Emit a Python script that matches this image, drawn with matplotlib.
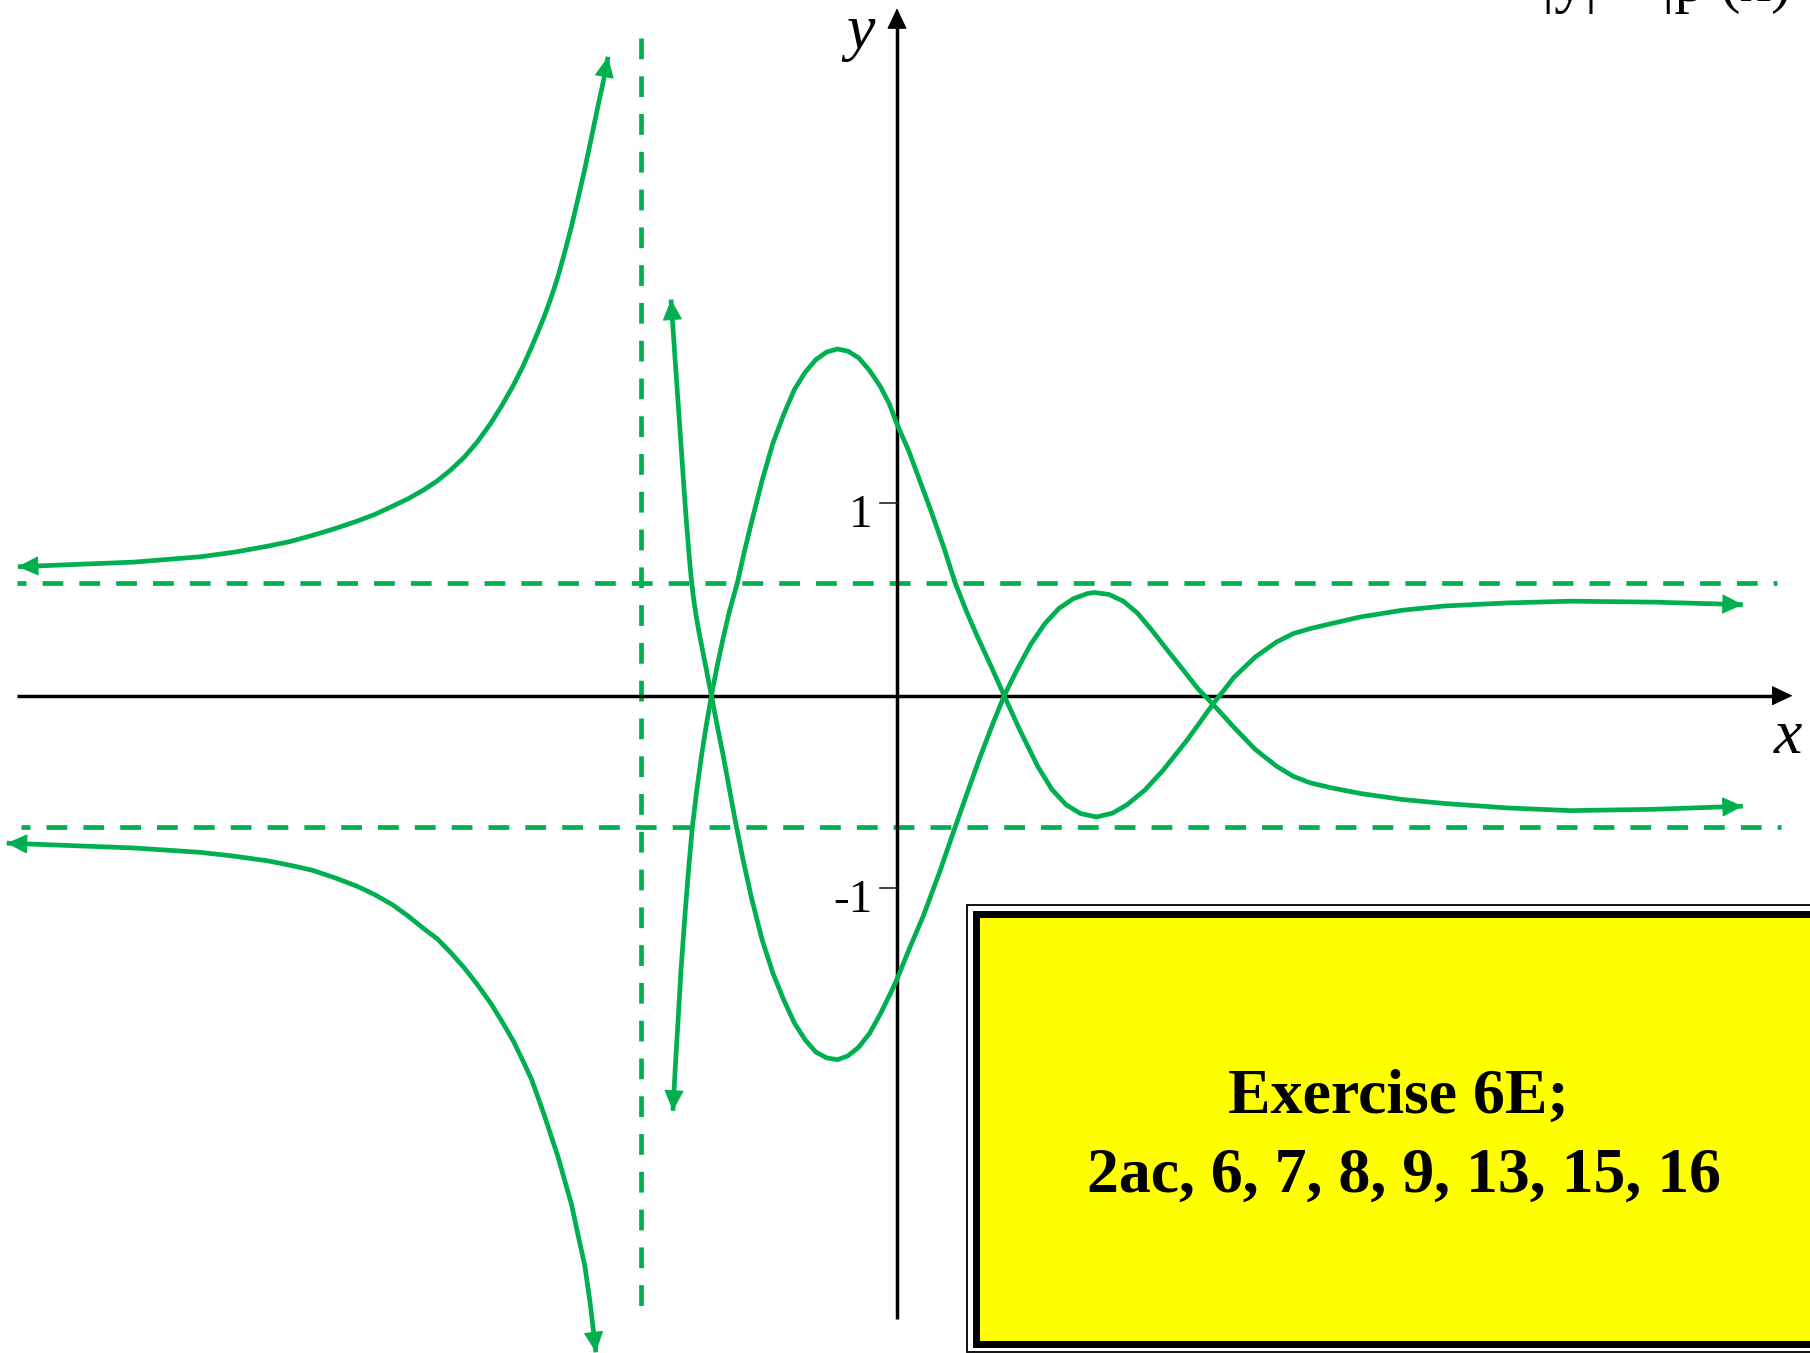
import matplotlib
matplotlib.use("Agg")
import matplotlib.pyplot as plt
from matplotlib.patches import FancyArrowPatch, Rectangle

# ---------------- data ----------------
# reciprocal-like curve, upper-left branch
U_x = [-4.567, -3.964, -3.616, -3.440, -3.268, -3.152, -3.036, -2.920, -2.804, -2.712,
       -2.619, -2.538, -2.457, -2.387, -2.318, -2.248, -2.178, -2.109, -2.051, -1.993,
       -1.946, -1.900, -1.865, -1.831, -1.796, -1.761, -1.726, -1.691, -1.657, -1.622,
       -1.587, -1.552, -1.524, -1.501]
U_y = [0.670, 0.694, 0.722, 0.746, 0.777, 0.801, 0.833, 0.868, 0.907, 0.942,
       0.985, 1.024, 1.070, 1.117, 1.173, 1.239, 1.321, 1.417, 1.510, 1.612,
       1.705, 1.807, 1.890, 1.974, 2.070, 2.178, 2.304, 2.438, 2.583, 2.735,
       2.902, 3.069, 3.198, 3.319]
# lower-left branch
L_x = [-4.625, -3.964, -3.616, -3.440, -3.268, -3.152, -3.036, -2.920, -2.804, -2.712,
       -2.619, -2.538, -2.457, -2.387, -2.318, -2.248, -2.178, -2.109, -2.051, -1.993,
       -1.946, -1.900, -1.865, -1.831, -1.796, -1.761, -1.726, -1.691, -1.657, -1.622,
       -1.594, -1.564]
L_y = [-0.766, -0.791, -0.814, -0.834, -0.858, -0.881, -0.907, -0.946, -0.990, -1.034,
       -1.087, -1.146, -1.211, -1.264, -1.335, -1.414, -1.503, -1.600, -1.694, -1.794,
       -1.891, -1.989, -2.086, -2.183, -2.289, -2.395, -2.519, -2.642, -2.801, -2.960,
       -3.155, -3.411]
# oscillating curve starting at the top arrow
P_x = [-1.174, -1.160, -1.146, -1.130, -1.115, -1.100, -1.090, -1.080, -1.070, -1.058,
       -1.044, -1.028, -1.010, -0.988, -0.964, -0.935, -0.905, -0.840, -0.800, -0.756,
       -0.700, -0.645, -0.589, -0.533, -0.477, -0.422, -0.366, -0.310, -0.255, -0.199,
       -0.143, -0.087, -0.041, 0.000, 0.061, 0.136, 0.220, 0.303, 0.370, 0.433,
       0.500, 0.557, 0.619, 0.693, 0.767, 0.841, 0.916, 0.990, 1.027, 1.101,
       1.176, 1.250, 1.324, 1.399, 1.473, 1.566, 1.642, 1.751, 1.860, 1.970,
       2.057, 2.144, 2.254, 2.407, 2.625, 2.844, 3.171, 3.499, 3.936, 4.394]
P_y = [2.058, 1.855, 1.650, 1.420, 1.200, 0.985, 0.855, 0.730, 0.620, 0.515,
       0.418, 0.327, 0.236, 0.124, 0.000, -0.150, -0.300, -0.650, -0.850, -1.050,
       -1.270, -1.440, -1.579, -1.700, -1.788, -1.851, -1.881, -1.891, -1.871, -1.826,
       -1.755, -1.654, -1.561, -1.473, -1.322, -1.146, -0.920, -0.680, -0.490, -0.315,
       -0.140, 0.000, 0.126, 0.264, 0.373, 0.453, 0.504, 0.531, 0.536, 0.526,
       0.491, 0.428, 0.340, 0.244, 0.151, 0.033, -0.045, -0.165, -0.278, -0.365,
       -0.418, -0.452, -0.478, -0.508, -0.539, -0.560, -0.583, -0.597, -0.590, -0.574]
# oscillating curve starting at the bottom arrow
Q_x = [-1.164, -1.150, -1.135, -1.122, -1.100, -1.080, -1.062, -1.040, -1.016, -0.990,
       -0.964, -0.935, -0.905, -0.870, -0.830, -0.790, -0.756, -0.700, -0.645, -0.589,
       -0.533, -0.477, -0.422, -0.366, -0.310, -0.255, -0.199, -0.143, -0.087, -0.041,
       0.000, 0.061, 0.117, 0.173, 0.240, 0.303, 0.360, 0.414, 0.490, 0.557,
       0.637, 0.730, 0.804, 0.879, 0.953, 1.036, 1.120, 1.194, 1.287, 1.380,
       1.510, 1.642, 1.751, 1.860, 1.970, 2.057, 2.144, 2.254, 2.407, 2.625,
       2.844, 3.171, 3.499, 3.936, 4.394]
Q_y = [-2.156, -1.900, -1.650, -1.423, -1.120, -0.870, -0.673, -0.490, -0.315, -0.150,
       0.000, 0.150, 0.290, 0.440, 0.584, 0.760, 0.900, 1.120, 1.310, 1.460,
       1.590, 1.680, 1.745, 1.785, 1.801, 1.790, 1.755, 1.690, 1.607, 1.519,
       1.410, 1.272, 1.121, 0.970, 0.780, 0.584, 0.440, 0.315, 0.150, 0.000,
       -0.176, -0.365, -0.486, -0.567, -0.612, -0.630, -0.610, -0.567, -0.491, -0.390,
       -0.227, -0.043, 0.096, 0.200, 0.278, 0.322, 0.348, 0.374, 0.409, 0.444,
       0.466, 0.482, 0.491, 0.486, 0.473]

h_asym = [0.584, -0.684]           # horizontal dashed asymptotes
h_asym_x = [(-4.571, 4.571), (-4.550, 4.590)]
v_asym = -1.332                    # vertical dashed asymptote
v_asym_y = (3.417, -3.243)

y_ticks = [1, -1]
y_tick_labels = ["1", "-1"]

box_lines = ["Exercise 6E;", "2ac, 6, 7, 8, 9, 13, 15, 16"]
top_formula = "|y| = |p (x)"

# ---------------- styling ----------------
GREEN = "#00B050"
CURVE_LW = 3.4
AX_LW = 2.5
HEAD = "-|>,head_length=0.42,head_width=0.2"

fig = plt.figure(figsize=(18.1, 13.53), dpi=100)
ax = fig.add_axes([0, 0, 1, 1])
ax.set_xlim(-4.6597, 4.7429)
ax.set_ylim(-3.4145, 3.6140)
ax.axis("off")


def head(x0, y0, x1, y1, color, ms=32, z=5):
    ax.add_patch(FancyArrowPatch((x0, y0), (x1, y1), arrowstyle=HEAD,
                                 mutation_scale=ms, color=color, lw=0.8,
                                 shrinkA=0, shrinkB=0, zorder=z))


# dashed asymptotes
for yv, (xa, xb) in zip(h_asym, h_asym_x):
    ax.plot([xa, xb], [yv, yv], color=GREEN, lw=CURVE_LW,
            ls=(2.5, (4.4, 3.4)), dash_capstyle="butt", zorder=2)
ax.plot([v_asym, v_asym], list(v_asym_y), color=GREEN, lw=CURVE_LW,
        ls=(0, (4.4, 3.6)), dash_capstyle="butt", zorder=2)

# axes
ax.plot([-4.571, 4.60], [0, 0], color="black", lw=AX_LW, solid_capstyle="butt", zorder=3)
head(4.40, 0, 4.652, 0, "black", z=3)
ax.plot([0, 0], [-3.238, 3.52], color="black", lw=AX_LW, solid_capstyle="butt", zorder=3)
head(0, 3.30, 0, 3.571, "black", z=3)
ax.text(-0.192, 3.44, "y", fontsize=46, family="Liberation Serif", style="italic",
        ha="center", va="center", zorder=4)
ax.text(4.629, -0.22, "x", fontsize=46, family="Liberation Serif", style="italic",
        ha="center", va="center", zorder=4)

for tv, tl in zip(y_ticks, y_tick_labels):
    ax.plot([-0.088, 0], [tv, tv], color="#222222", lw=1.2, zorder=3)
    ax.text(-0.128, tv - 0.065, tl, fontsize=34, family="Liberation Serif",
            ha="right", va="center", zorder=4)

# curves with arrowheads on both ends
for xs, ys in [(U_x, U_y), (L_x, L_y), (P_x, P_y), (Q_x, Q_y)]:
    ax.plot(xs, ys, color=GREEN, lw=CURVE_LW, solid_capstyle="butt",
            solid_joinstyle="round", zorder=5)
    head(xs[1], ys[1], xs[0], ys[0], GREEN)
    head(xs[-2], ys[-2], xs[-1], ys[-1], GREEN)

# partially visible formula at the top right (cut off as in the reference)
fig.text(1542 / 1810, 1 - 1 / 1353, top_formula, fontsize=44,
         family="Liberation Serif", ha="left", va="baseline")

# yellow exercise box
fig.patches.append(Rectangle((967 / 1810, 1 - 1352 / 1353), 0.6, (1352 - 905) / 1353,
                             transform=fig.transFigure, facecolor="white",
                             edgecolor="black", lw=1.3, zorder=6))
fig.patches.append(Rectangle((975.5 / 1810, 1 - 1343.5 / 1353), 0.6, (1343.5 - 913.5) / 1353,
                             transform=fig.transFigure, facecolor="#FFFF00",
                             edgecolor="black", lw=5.0, zorder=7))
fig.text(1398 / 1810, 1 - 1113 / 1353, box_lines[0], fontsize=46, weight="bold",
         family="Liberation Serif", ha="center", va="baseline", zorder=8)
fig.text(1404 / 1810, 1 - 1192 / 1353, box_lines[1], fontsize=46, weight="bold",
         family="Liberation Serif", ha="center", va="baseline", zorder=8)

fig.savefig("out.png", dpi=100)
